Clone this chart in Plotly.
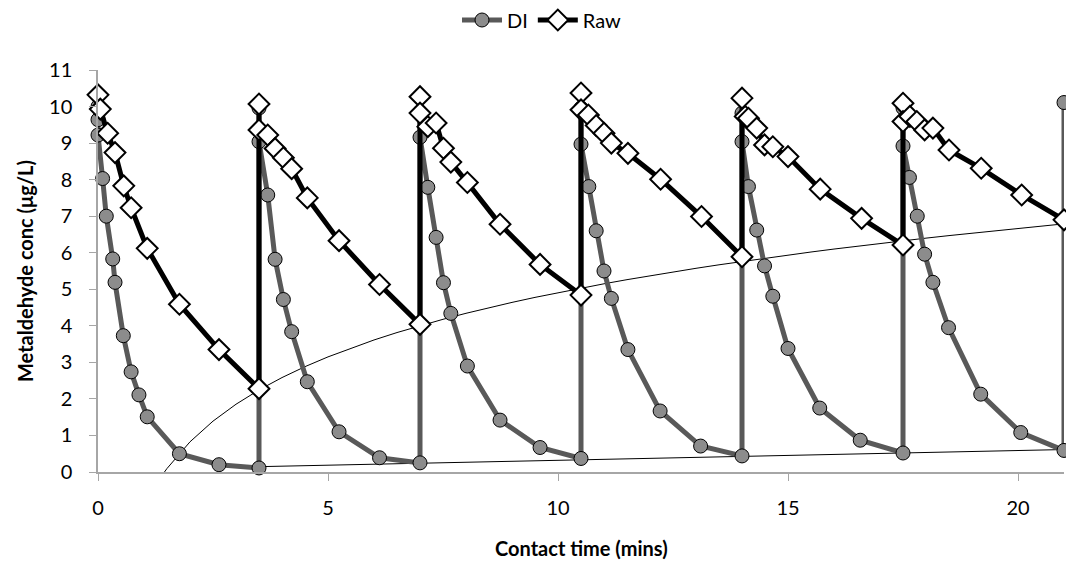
import numpy as np
import plotly.graph_objects as go

# ---------------- data ----------------
di_t = [0, 0, 0, 0.10, 0.18, 0.32, 0.37, 0.55, 0.72, 0.89, 1.07, 1.77, 2.63, 3.5,
        3.5, 3.5, 3.69, 3.85, 4.03, 4.21, 4.55, 5.24, 6.12, 7.0,
        7.0, 7.0, 7.17, 7.35, 7.51, 7.67, 8.03, 8.74, 9.61, 10.5,
        10.5, 10.5, 10.67, 10.83, 11.0, 11.16, 11.52, 12.22, 13.1, 14.0,
        14.0, 14.0, 14.14, 14.32, 14.49, 14.67, 15.0, 15.69, 16.57, 17.5,
        17.5, 17.5, 17.64, 17.81, 17.97, 18.15, 18.49, 19.19, 20.06, 21.0,
        21.0]
di_y = [10.0, 9.64, 9.22, 8.03, 7.0, 5.83, 5.19, 3.73, 2.74, 2.11, 1.51, 0.50, 0.20, 0.11,
        9.96, 9.04, 7.58, 5.82, 4.72, 3.84, 2.47, 1.10, 0.39, 0.25,
        9.86, 9.16, 7.79, 6.42, 5.18, 4.34, 2.90, 1.42, 0.67, 0.37,
        9.96, 8.97, 7.81, 6.60, 5.50, 4.75, 3.35, 1.67, 0.71, 0.44,
        9.82, 9.04, 7.81, 6.62, 5.64, 4.81, 3.38, 1.75, 0.87, 0.52,
        9.96, 8.92, 8.06, 7.0, 5.96, 5.19, 3.95, 2.13, 1.08, 0.59,
        10.11]

raw_t = [0, 0.05, 0.21, 0.37, 0.56, 0.72, 1.07, 1.77, 2.63, 3.5,
         3.5, 3.5, 3.69, 3.85, 4.03, 4.21, 4.55, 5.24, 6.12, 7.0,
         7.0, 7.0, 7.17, 7.35, 7.51, 7.67, 8.03, 8.74, 9.61, 10.5,
         10.5, 10.5, 10.66, 10.83, 11.0, 11.16, 11.52, 12.23, 13.12, 14.0,
         14.0, 14.07, 14.14, 14.32, 14.49, 14.67, 15.0, 15.7, 16.6, 17.5,
         17.5, 17.5, 17.65, 17.8, 17.97, 18.15, 18.5, 19.2, 20.08, 21.0]
raw_y = [10.32, 9.93, 9.27, 8.74, 7.83, 7.23, 6.12, 4.59, 3.35, 2.28,
         10.07, 9.36, 9.22, 8.85, 8.60, 8.30, 7.50, 6.33, 5.13, 4.04,
         10.27, 9.82, 9.45, 9.55, 8.86, 8.48, 7.92, 6.78, 5.68, 4.84,
         10.37, 9.91, 9.77, 9.48, 9.27, 9.0, 8.72, 8.01, 6.99, 5.89,
         10.23, 9.73, 9.68, 9.41, 8.95, 8.90, 8.63, 7.74, 6.94, 6.21,
         10.09, 9.59, 9.73, 9.59, 9.36, 9.41, 8.81, 8.31, 7.58, 6.90]

cycle_ends = [3.5, 7.0, 10.5, 14.0, 17.5, 21.0]
x_ticks = [0, 5, 10, 15, 20]
y_ticks = list(range(0, 12))
backward_forecast = 2.0

# ---------------- trendlines derived from the cycle minima ----------------
def minima(ts, ys):
    ts = np.asarray(ts); ys = np.asarray(ys)
    return np.array([ys[np.isclose(ts, c)].min() for c in cycle_ends])

ce = np.array(cycle_ends)
raw_min = minima(raw_t, raw_y)
di_min = minima(di_t, di_y)

a, b = np.polyfit(np.log(ce), raw_min, 1)
log_x = np.linspace(ce.min() - backward_forecast, ce.max(), 40)
log_y = a * np.log(log_x) + b
keep = log_y >= 0
log_x, log_y = log_x[keep], log_y[keep]
x0 = np.exp(-b / a)
if x0 < log_x[0]:
    log_x = np.concatenate([[x0], log_x]); log_y = np.concatenate([[0.0], log_y])

m, c = np.polyfit(ce, di_min, 1)
lin_x = np.array([ce.min(), ce.max()])
lin_y = m * lin_x + c

# ---------------- figure ----------------
FONT = "Lato"
W, H = 1074, 567
ML, MR, MT, MB = 90, 18, 62, 103
PH = H - MT - MB

fig = go.Figure()

fig.add_trace(go.Scatter(x=log_x, y=log_y, mode="lines", showlegend=False,
                         line=dict(color="black", width=1), hoverinfo="skip"))
fig.add_trace(go.Scatter(x=lin_x, y=lin_y, mode="lines", showlegend=False,
                         line=dict(color="black", width=1), hoverinfo="skip"))

fig.add_trace(go.Scatter(
    x=di_t, y=di_y, mode="lines+markers", name="DI", cliponaxis=False,
    line=dict(color="#595959", width=5),
    marker=dict(symbol="circle", size=14, color="#8c8c8c",
                line=dict(color="black", width=1))))

fig.add_trace(go.Scatter(
    x=raw_t, y=raw_y, mode="lines+markers", name="Raw", cliponaxis=False,
    line=dict(color="black", width=5),
    marker=dict(symbol="diamond", size=16, color="white",
                line=dict(color="black", width=2))))

fig.update_layout(
    width=W, height=H,
    paper_bgcolor="white", plot_bgcolor="white",
    margin=dict(l=ML, r=MR, t=MT, b=MB, autoexpand=False),
    font=dict(family=FONT, size=20, color="black"),
    legend=dict(orientation="h", xref="container", yref="container",
                x=534 / W, xanchor="center", y=1 - 12 / H, yanchor="middle",
                font=dict(size=20), itemwidth=40, tracegroupgap=0),
    xaxis=dict(range=[0, 21], tickvals=x_ticks, showgrid=False, zeroline=False,
               showline=True, linecolor="#a6a6a6", linewidth=1.5,
               ticks="outside", ticklen=7, tickcolor="#a6a6a6",
               ticklabelstandoff=10, automargin=False),
    yaxis=dict(range=[0, 11], tickvals=y_ticks, showgrid=False, zeroline=False,
               showline=True, linecolor="#a6a6a6", linewidth=1.5,
               ticks="outside", ticklen=7, tickcolor="#a6a6a6",
               ticklabelstandoff=13, automargin=False),
    annotations=[
        dict(text="<b>Contact time (mins)</b>", xref="paper", yref="paper",
             x=0.5, y=-76 / PH, xanchor="center", yanchor="middle",
             showarrow=False, font=dict(size=20)),
        dict(text="<b>Metaldehyde conc (μg/L)</b>", xref="paper", yref="paper",
             x=(17 - ML) / (W - ML - MR), y=0.5, xanchor="center", yanchor="middle",
             textangle=-90, showarrow=False, font=dict(size=20)),
    ],
)

fig.write_html("out.html")
